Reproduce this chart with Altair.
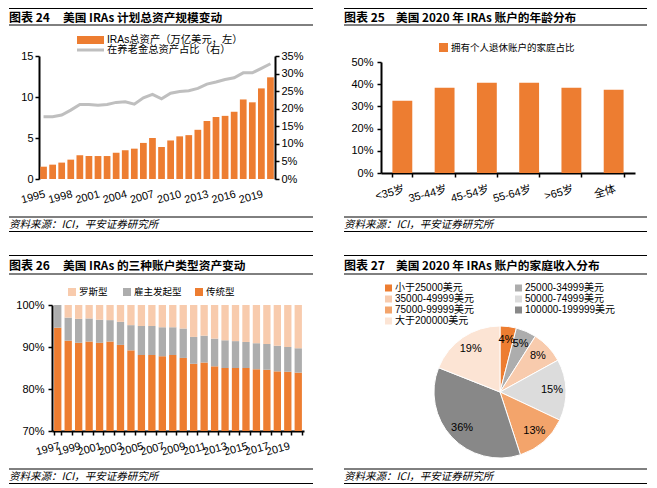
import json
import altair as alt
import pandas as pd

FONT_MIX = "Liberation Sans, Noto Sans CJK SC"
FONT_CJK = "Noto Sans CJK SC"

ORANGE = "#ED7D31"
GRAY = "#ADADAD"
LIGHT_ORANGE = "#F8CBAD"
LINE_GRAY = "#BFBFBF"

SOURCE = "资料来源：ICI，平安证券研究所"

# ---------------- chart 24 ----------------
years24 = ["1995", "1996", "1997", "1998", "1999", "2000", "2001", "2002", "2003",
           "2004", "2005", "2006", "2007", "2008", "2009", "2010", "2011", "2012",
           "2013", "2014", "2015", "2016", "2017", "2018", "2019", "2020"]
ira_assets = [1.5, 1.75, 2.0, 2.36, 2.9, 2.8, 2.8, 2.8, 3.2, 3.5, 3.7, 4.4, 5.0,
              3.9, 4.7, 5.2, 5.35, 6.0, 7.07, 7.56, 7.7, 8.2, 9.7, 9.35, 11.05, 12.4]
pension_share = [0.177, 0.177, 0.182, 0.196, 0.212, 0.212, 0.210, 0.212, 0.218,
                 0.220, 0.213, 0.231, 0.241, 0.228, 0.244, 0.249, 0.251, 0.258,
                 0.270, 0.276, 0.283, 0.288, 0.302, 0.302, 0.315, 0.328]
years24_ticks = ["1995", "1998", "2001", "2004", "2007", "2010", "2013", "2016", "2019"]
legend24 = ["IRAs总资产（万亿美元，左）", "在养老金总资产占比（右）"]
title24 = ["图表 24", "美国 IRAs 计划总资产规模变动"]

# ---------------- chart 25 ----------------
age_groups = ["<35岁", "35-44岁", "45-54岁", "55-64岁", ">65岁", "全体"]
age_share = [0.326, 0.384, 0.407, 0.407, 0.384, 0.375]
legend25 = "拥有个人退休账户的家庭占比"
title25 = ["图表 25", "美国 2020 年 IRAs 账户的年龄分布"]

# ---------------- chart 26 ----------------
years26 = ["1997", "1998", "1999", "2000", "2001", "2002", "2003", "2004", "2005",
           "2006", "2007", "2008", "2009", "2010", "2011", "2012", "2013", "2014",
           "2015", "2016", "2017", "2018", "2019", "2020"]
trad_share = [94.6, 91.5, 91.0, 91.3, 91.0, 91.3, 90.5, 89.2, 88.1, 88.1, 87.8, 88.1,
              87.4, 86.0, 86.3, 85.4, 85.0, 85.0, 85.0, 84.7, 84.6, 84.2, 84.1, 83.9]
employer_share = [5.4, 5.5, 5.7, 5.5, 5.5, 5.1, 5.5, 6.0, 6.9, 6.9, 6.9, 6.6,
                  7.0, 6.4, 6.4, 6.6, 6.6, 6.4, 6.2, 6.2, 6.1, 6.1, 5.9, 5.8]
roth_share = [0.0, 3.0, 3.3, 3.2, 3.5, 3.6, 4.0, 4.8, 5.0, 5.0, 5.3, 5.3,
              5.6, 7.6, 7.3, 8.0, 8.4, 8.6, 8.8, 9.1, 9.3, 9.7, 10.0, 10.3]
types26 = ["传统型", "雇主发起型", "罗斯型"]
years26_ticks = ["1997", "1999", "2001", "2003", "2005", "2007", "2009", "2011",
                 "2013", "2015", "2017", "2019"]
title26 = ["图表 26", "美国 IRAs 的三种账户类型资产变动"]

# ---------------- chart 27 ----------------
income_groups = ["小于25000美元", "25000-34999美元", "35000-49999美元", "50000-74999美元",
                 "75000-99999美元", "100000-199999美元", "大于200000美元"]
income_share = [4, 5, 8, 15, 13, 36, 19]
pie_colors = ["#ED7D31", "#ADADAD", "#F8CBAD", "#DCDCDC", "#F3A46B", "#888888", "#FCE4D4"]
title27 = ["图表 27", "美国 2020 年 IRAs 账户的家庭收入分布"]

one = pd.DataFrame({"k": [0]})


def rule(x1, x2, y, color="black", w=1.0):
    return alt.Chart(one).mark_rule(color=color, strokeWidth=w).encode(
        x=alt.value(x1), x2=alt.value(x2), y=alt.value(y))


def txt(s, x, y, size, font=FONT_MIX, weight="normal", style="normal", color="black"):
    return alt.Chart(one).mark_text(
        text=s, align="left", baseline="middle", fontSize=size, font=font,
        fontWeight=weight, fontStyle=style, color=color).encode(
        x=alt.value(x), y=alt.value(y))


def box(x1, x2, y1, y2, color):
    return alt.Chart(one).mark_rect(color=color).encode(
        x=alt.value(x1), x2=alt.value(x2), y=alt.value(y1), y2=alt.value(y2))


def frame(w, h, title, t2x, title_y, title_line, foot1, foot_text):
    return [
        rule(0, w, 0.5),
        txt(title[0], 0, title_y, 12, FONT_CJK, "bold"),
        txt(title[1], t2x, title_y, 11.7, FONT_CJK, "bold"),
        rule(0, w, title_line),
        rule(0, w, foot1),
        txt(SOURCE, 0, foot_text, 10.5, FONT_CJK, style="italic"),
        rule(0, w, h - 0.5),
    ]


lab = dict(labelFont=FONT_MIX, labelFontSize=11, labelColor="black", title=None)
rot = dict(labelAngle=345, labelAlign="right", labelBaseline="top", labelOverlap=False)

# ---------------- chart 24 build (box 304 x 224) ----------------
W1, H1 = 304, 224
df24 = pd.DataFrame({"year": years24, "assets": ira_assets, "share": pension_share})
x24 = alt.X("year:O", sort=years24,
            scale=alt.Scale(range=[30, 266], paddingInner=0.26, paddingOuter=0.13),
            axis=alt.Axis(values=years24_ticks, domain=False, ticks=False,
                          offset=-53, labelPadding=9, **rot, **lab))
bars24 = alt.Chart(df24).mark_bar(color=ORANGE).encode(
    x=x24,
    y=alt.Y("assets:Q", scale=alt.Scale(domain=[0, 15], nice=False, range=[171, 48]),
            axis=alt.Axis(orient="left", values=[0, 5, 10, 15], offset=-30,
                          labelPadding=2, **lab)))
line24 = alt.Chart(df24).mark_line(color=LINE_GRAY, strokeWidth=3).encode(
    x=x24,
    y=alt.Y("share:Q", scale=alt.Scale(domain=[0, 0.35], nice=False, range=[171, 48]),
            axis=alt.Axis(orient="right", format=".0%", offset=-38, labelPadding=2,
                          values=[0, 0.05, 0.1, 0.15, 0.2, 0.25, 0.3, 0.35], **lab)))
dec24 = frame(W1, H1, title24, 54, 9.5, 17, 209, 216.5) + [
    box(68, 95, 28, 36, ORANGE),
    txt(legend24[0], 98, 31.5, 10.3),
    rule(68, 95, 42, LINE_GRAY, 3),
    txt(legend24[1], 98, 42, 10.3),
]
c24 = alt.layer(bars24, line24, *dec24).resolve_scale(y="independent").properties(
    width=W1, height=H1)

# ---------------- chart 25 build (box 303 x 224) ----------------
W2 = 303
df25 = pd.DataFrame({"group": age_groups, "share": age_share})
bars25 = alt.Chart(df25).mark_bar(color=ORANGE).encode(
    x=alt.X("group:N", sort=age_groups,
            scale=alt.Scale(range=[37, 291], paddingInner=0.53, paddingOuter=0.27),
            axis=alt.Axis(tickBand="extent", offset=-59, labelPadding=6, **rot, **lab)),
    y=alt.Y("share:Q", scale=alt.Scale(domain=[0, 0.5], nice=False, range=[165, 54]),
            axis=alt.Axis(format=".0%", values=[0, 0.1, 0.2, 0.3, 0.4, 0.5],
                          offset=-37, labelPadding=4, **lab)))
dec25 = frame(W2, H1, title25, 52, 9.5, 17, 209, 216.5) + [
    box(95, 104, 35, 44, ORANGE),
    txt(legend25, 107, 40, 9.5),
]
c25 = alt.layer(bars25, *dec25).properties(width=W2, height=H1)

# ---------------- chart 26 build (box 304 x 229) ----------------
H2 = 229
rows = []
for i, yr in enumerate(years26):
    base = 0.0
    for t, v in zip(types26, [trad_share[i], employer_share[i], roth_share[i]]):
        rows.append({"year": yr, "type": t, "y0": base / 100, "y1": (base + v) / 100})
        base += v
df26 = pd.DataFrame(rows)
bars26 = alt.Chart(df26).mark_bar().encode(
    x=alt.X("year:O", sort=years26,
            scale=alt.Scale(range=[43, 295], paddingInner=0.3, paddingOuter=0.2),
            axis=alt.Axis(tickBand="extent", offset=-53, labelPadding=5,
                          labelExpr="indexof(" + json.dumps(years26_ticks)
                          + ", datum.label) >= 0 ? datum.label : ''",
                          **rot, **lab)),
    y=alt.Y("y1:Q", scale=alt.Scale(domain=[0.7, 1.0], nice=False, zero=False,
                                    clamp=True, range=[176, 50]),
            axis=alt.Axis(format=".0%", values=[0.7, 0.8, 0.9, 1.0], offset=-43,
                          labelPadding=4, **lab)),
    y2="y0:Q",
    color=alt.Color("type:N", scale=alt.Scale(domain=types26,
                                              range=[ORANGE, GRAY, LIGHT_ORANGE]),
                    legend=None))
dec26 = frame(W1, H2, title26, 54, 11, 19, 214, 221.5) + [
    box(59, 67, 33, 41, LIGHT_ORANGE), txt(types26[2], 70, 37, 9.5),
    box(114, 122, 33, 41, GRAY), txt(types26[1], 125, 37, 9.5),
    box(186, 194, 33, 41, ORANGE), txt(types26[0], 197, 37, 9.5),
]
c26 = alt.layer(bars26, *dec26).properties(width=W1, height=H2)

# ---------------- chart 27 build (box 303 x 229) ----------------
df27 = pd.DataFrame({"group": income_groups, "share": income_share,
                     "idx": list(range(len(income_groups))),
                     "label": [f"{v}%" for v in income_share]})
CX, CY = 156, 137
arc27 = alt.Chart(df27).mark_arc(outerRadius=66, stroke="white", strokeWidth=1).encode(
    x=alt.value(CX), y=alt.value(CY),
    theta=alt.Theta("share:Q", stack=True),
    color=alt.Color("group:N", scale=alt.Scale(domain=income_groups, range=pie_colors),
                    legend=None),
    order=alt.Order("idx:Q"))
lab27 = alt.Chart(df27).mark_text(radius=52, fontSize=11, font=FONT_MIX,
                                  color="black").encode(
    x=alt.value(CX), y=alt.value(CY),
    theta=alt.Theta("share:Q", stack=True),
    text="label:N",
    order=alt.Order("idx:Q"))
leg27 = []
col_x = [41, 171]
row_y = [33, 44, 55, 66]
for i, g in enumerate(income_groups):
    cx = col_x[i % 2]
    ry = row_y[i // 2]
    leg27.append(box(cx, cx + 7, ry - 3.5, ry + 3.5, pie_colors[i]))
    leg27.append(txt(g, cx + 10, ry, 10))
dec27 = frame(W2, H2, title27, 52, 11, 19, 214, 221.5) + leg27
c27 = alt.layer(arc27, lab27, *dec27).properties(width=W2, height=H2)

row1 = alt.hconcat(c24, c25, spacing=29)
row2 = alt.hconcat(c26, c27, spacing=29).resolve_scale(color="independent")
chart = alt.vconcat(row1, row2, spacing=23).resolve_scale(
    color="independent").properties(padding=0).configure_view(
    strokeWidth=0).configure_axis(
    grid=False, domainColor="black", domainWidth=2, tickColor="black",
    tickWidth=1.5, tickSize=4)

chart.save("out.html", embed_options={"renderer": "svg", "actions": False})
